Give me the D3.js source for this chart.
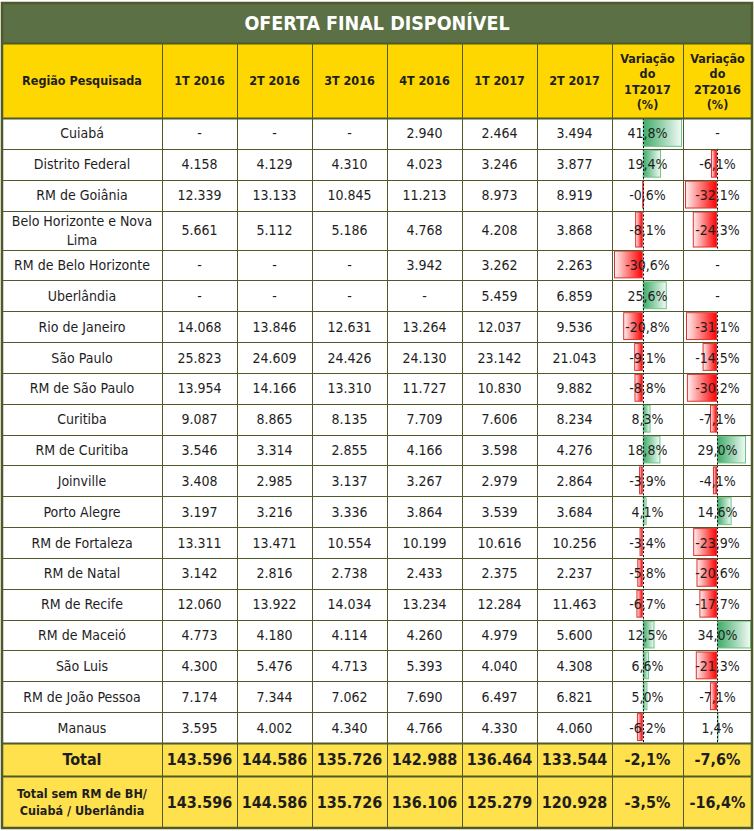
<!DOCTYPE html>
<html>
<head>
<meta charset="utf-8">
<script src="https://cdn.jsdelivr.net/npm/d3@7"></script>
<style>
  html, body { margin: 0; padding: 0; background: #ffffff; }
  svg { display: block; }
</style>
</head>
<body>
<div id="chart"></div>
<script>
// ---------------- DATA ----------------
const title = "OFERTA FINAL DISPONÍVEL";
const headerFirst = "Região Pesquisada";
const periods = ["1T 2016", "2T 2016", "3T 2016", "4T 2016", "1T 2017", "2T 2017"];
const varHeaders = [["Variação", "do", "1T2017", "(%)"], ["Variação", "do", "2T2016", "(%)"]];

const regions = [
  "Cuiabá", "Distrito Federal", "RM de Goiânia", "Belo Horizonte e Nova Lima",
  "RM de Belo Horizonte", "Uberlândia", "Rio de Janeiro", "São Paulo",
  "RM de São Paulo", "Curitiba", "RM de Curitiba", "Joinville", "Porto Alegre",
  "RM de Fortaleza", "RM de Natal", "RM de Recife", "RM de Maceió", "São Luis",
  "RM de João Pessoa", "Manaus"
];
const q1_2016 = [null, 4158, 12339, 5661, null, null, 14068, 25823, 13954, 9087, 3546, 3408, 3197, 13311, 3142, 12060, 4773, 4300, 7174, 3595];
const q2_2016 = [null, 4129, 13133, 5112, null, null, 13846, 24609, 14166, 8865, 3314, 2985, 3216, 13471, 2816, 13922, 4180, 5476, 7344, 4002];
const q3_2016 = [null, 4310, 10845, 5186, null, null, 12631, 24426, 13310, 8135, 2855, 3137, 3336, 10554, 2738, 14034, 4114, 4713, 7062, 4340];
const q4_2016 = [2940, 4023, 11213, 4768, 3942, null, 13264, 24130, 11727, 7709, 4166, 3267, 3864, 10199, 2433, 13234, 4260, 5393, 7690, 4766];
const q1_2017 = [2464, 3246, 8973, 4208, 3262, 5459, 12037, 23142, 10830, 7606, 3598, 2979, 3539, 10616, 2375, 12284, 4979, 4040, 6497, 4330];
const q2_2017 = [3494, 3877, 8919, 3868, 2263, 6859, 9536, 21043, 9882, 8234, 4276, 2864, 3684, 10256, 2237, 11463, 5600, 4308, 6821, 4060];
const varVs1T2017 = [41.8, 19.4, -0.6, -8.1, -30.6, 25.6, -20.8, -9.1, -8.8, 8.3, 18.8, -3.9, 4.1, -3.4, -5.8, -6.7, 12.5, 6.6, 5.0, -6.2];
const varVs2T2016 = [null, -6.1, -32.1, -24.3, null, null, -31.1, -14.5, -30.2, -7.1, 29.0, -4.1, 14.6, -23.9, -20.6, -17.7, 34.0, -21.3, -7.1, 1.4];

const totalLabel = ["Total"];
const totalValues = [143596, 144586, 135726, 142988, 136464, 133544];
const totalVars = [-2.1, -7.6];
const totalSemLabel = ["Total sem RM de BH/", "Cuiabá / Uberlândia"];
const totalSemValues = [143596, 144586, 135726, 136106, 125279, 120928];
const totalSemVars = [-3.5, -16.4];

// ---------------- LAYOUT ----------------
const W = 754, H = 831;
const FONT = "'DejaVu Sans Condensed', 'DejaVu Sans', sans-serif";
const colEdges = [2, 162, 237, 312, 387, 462, 537, 612, 683, 752];
const titleTop = 3, headerTop = 43, bodyTop = 118;
const bodyBottom = 743, totalBottom = 776, tableBottom = 828;
const tallRow = 3;           // index of the two-line region row
const tallH = 39;
const normalH = (bodyBottom - bodyTop - tallH) / (regions.length - 1);

const C = {
  green: "#5b7044", border: "#4f5a2b", header: "#ffd700", total: "#ffe04d",
  text: "#1e1e1e", pos: "#3eab68", posBorder: "#6cc48c", neg: "#ff0000", negBorder: "#e03030"
};

const loc = d3.formatLocale({ decimal: ",", thousands: ".", grouping: [3], currency: ["R$", ""], minus: "-" });
const fmtInt = loc.format(",d");
const fmtPct = v => loc.format(".1f")(v) + "%";

// row geometry
const rowTops = [];
{
  let y = bodyTop;
  regions.forEach((r, i) => { rowTops.push(y); y += (i === tallRow ? tallH : normalH); });
}
const rowH = i => (i === tallRow ? tallH : normalH);

const svg = d3.select("#chart").append("svg").attr("width", W).attr("height", H)
  .style("font-family", FONT);

// ---------- backgrounds ----------
svg.append("rect").attr("x", colEdges[0]).attr("y", titleTop)
  .attr("width", colEdges[9] - colEdges[0]).attr("height", headerTop - titleTop).attr("fill", C.green);
svg.append("rect").attr("x", colEdges[0]).attr("y", headerTop)
  .attr("width", colEdges[9] - colEdges[0]).attr("height", bodyTop - headerTop).attr("fill", C.header);
svg.append("rect").attr("x", colEdges[0]).attr("y", bodyTop)
  .attr("width", colEdges[9] - colEdges[0]).attr("height", bodyBottom - bodyTop).attr("fill", "#ffffff");
svg.append("rect").attr("x", colEdges[0]).attr("y", bodyBottom)
  .attr("width", colEdges[9] - colEdges[0]).attr("height", tableBottom - bodyBottom).attr("fill", C.total);

// ---------- gradients ----------
const defs = svg.append("defs");
const gPos = defs.append("linearGradient").attr("id", "gpos").attr("x1", "0").attr("x2", "1");
gPos.append("stop").attr("offset", "0").attr("stop-color", C.pos);
gPos.append("stop").attr("offset", "1").attr("stop-color", "#f2faf5");
const gNeg = defs.append("linearGradient").attr("id", "gneg").attr("x1", "0").attr("x2", "1");
gNeg.append("stop").attr("offset", "0").attr("stop-color", "#fff0f0");
gNeg.append("stop").attr("offset", "1").attr("stop-color", C.neg);

// ---------- data bars ----------
const varCols = [varVs1T2017, varVs2T2016];
varCols.forEach((vals, k) => {
  const c0 = colEdges[7 + k], c1 = colEdges[8 + k];
  const valid = vals.filter(v => v !== null);
  const x = d3.scaleLinear()
    .domain([Math.min(0, d3.min(valid)), Math.max(0, d3.max(valid))])
    .range([c0 + 2, c1 - 1]);
  const g = svg.append("g");
  vals.forEach((v, i) => {
    if (v === null) return;
    const y0 = rowTops[i];
    const h = rowH(i);
    const xa = x(0), xv = x(v);
    g.append("rect")
      .attr("x", Math.min(xa, xv) + 0.5).attr("y", y0 + 1.5)
      .attr("width", Math.max(0.5, Math.abs(xv - xa) - 1)).attr("height", h - 4)
      .attr("fill", v >= 0 ? "url(#gpos)" : "url(#gneg)")
      .attr("stroke", v >= 0 ? C.posBorder : C.negBorder).attr("stroke-width", 1);
    g.append("line")
      .attr("x1", Math.round(xa) + 0.5).attr("x2", Math.round(xa) + 0.5)
      .attr("y1", y0).attr("y2", y0 + h)
      .attr("stroke", "#000").attr("stroke-width", 1).attr("stroke-dasharray", "2,2");
  });
});

// ---------- grid lines ----------
const grid = svg.append("g").attr("stroke", C.border).attr("stroke-width", 1).attr("fill", "none");
const hLines = [headerTop, bodyTop, ...rowTops.slice(1), bodyBottom, totalBottom];
hLines.forEach((y, i) => {
  const thick = (y === bodyTop || y === bodyBottom || y === totalBottom || y === headerTop);
  grid.append("line").attr("x1", colEdges[0]).attr("x2", colEdges[9])
    .attr("y1", Math.round(y) + 0.5).attr("y2", Math.round(y) + 0.5)
    .attr("stroke-width", thick ? 2 : 1);
});
colEdges.slice(1, -1).forEach(x => {
  grid.append("line").attr("x1", x + 0.5).attr("x2", x + 0.5)
    .attr("y1", headerTop).attr("y2", tableBottom);
});
svg.append("rect").attr("x", colEdges[0]).attr("y", titleTop)
  .attr("width", colEdges[9] - colEdges[0]).attr("height", tableBottom - titleTop)
  .attr("fill", "none").attr("stroke", C.border).attr("stroke-width", 2.5);

// ---------- text ----------
const cx = j => (colEdges[j] + colEdges[j + 1]) / 2;
function cellText(j, yc, lines, opts) {
  const lh = opts.lh || 15;
  const t = svg.append("text").attr("text-anchor", "middle")
    .attr("font-size", opts.size).attr("font-weight", opts.bold ? "bold" : "normal")
    .attr("fill", opts.color || C.text);
  lines.forEach((s, n) => {
    t.append("tspan").attr("x", cx(j))
      .attr("y", yc + (n - (lines.length - 1) / 2) * lh)
      .attr("dy", "0.36em").text(s);
  });
}

// title
svg.append("text").attr("x", (colEdges[0] + colEdges[9]) / 2).attr("y", (titleTop + headerTop) / 2)
  .attr("dy", "0.36em").attr("text-anchor", "middle").attr("fill", "#ffffff")
  .attr("font-size", 19.5).attr("font-weight", "bold").text(title);

// header
const hc = (headerTop + bodyTop) / 2;
cellText(0, hc, [headerFirst], { size: 12.5, bold: true });
periods.forEach((p, k) => cellText(k + 1, hc, [p], { size: 12.5, bold: true }));
varHeaders.forEach((lines, k) => cellText(7 + k, hc + 1, lines, { size: 12.5, bold: true, lh: 15.5 }));

// body
const seriesCols = [q1_2016, q2_2016, q3_2016, q4_2016, q1_2017, q2_2017];
regions.forEach((r, i) => {
  const yc = rowTops[i] + rowH(i) / 2;
  const lines = i === tallRow ? ["Belo Horizonte e Nova", "Lima"] : [r];
  cellText(0, yc, lines, { size: 14, lh: 19 });
  seriesCols.forEach((s, k) => cellText(k + 1, yc, [s[i] === null ? "-" : fmtInt(s[i])], { size: 14 }));
  varCols.forEach((s, k) => cellText(7 + k, yc, [s[i] === null ? "-" : fmtPct(s[i])], { size: 14 }));
});

// totals
const tc = (bodyBottom + totalBottom) / 2;
cellText(0, tc, totalLabel, { size: 16, bold: true });
totalValues.forEach((v, k) => cellText(k + 1, tc, [fmtInt(v)], { size: 16, bold: true }));
totalVars.forEach((v, k) => cellText(7 + k, tc, [fmtPct(v)], { size: 16, bold: true }));

const sc = (totalBottom + tableBottom) / 2;
cellText(0, sc, totalSemLabel, { size: 12.5, bold: true, lh: 17 });
totalSemValues.forEach((v, k) => cellText(k + 1, sc, [fmtInt(v)], { size: 16, bold: true }));
totalSemVars.forEach((v, k) => cellText(7 + k, sc, [fmtPct(v)], { size: 16, bold: true }));
</script>
</body>
</html>
